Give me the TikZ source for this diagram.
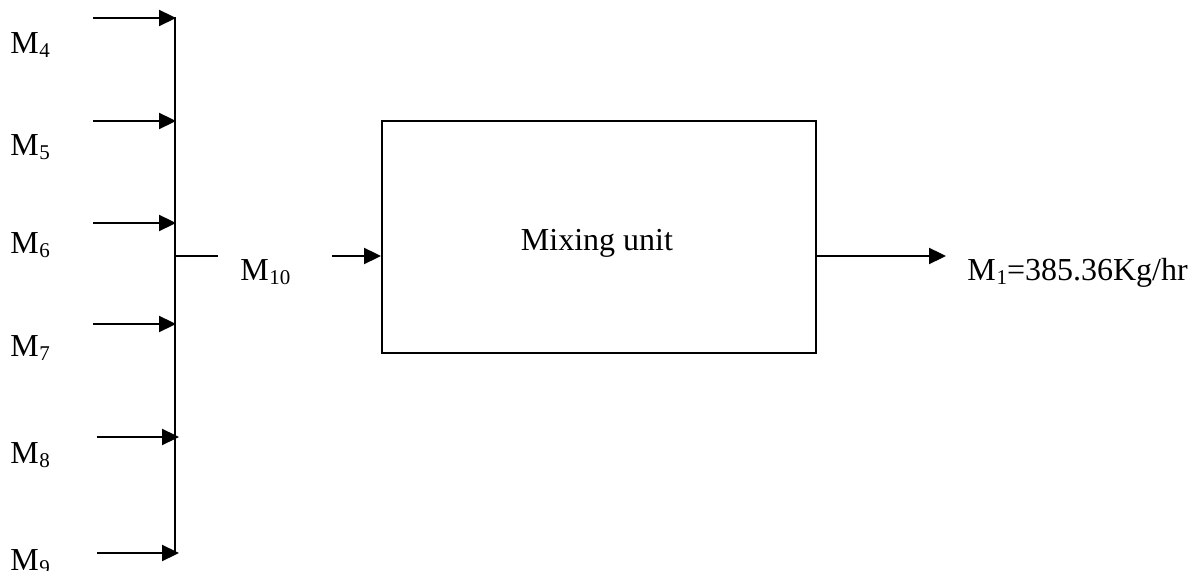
\documentclass[tikz,border=0pt]{standalone}
\usepackage{fontspec}
\setmainfont{Liberation Serif}
\usetikzlibrary{arrows.meta}
\newcommand{\lbl}[2]{M\kern0.02em\raisebox{-0.12em}{\fontsize{10.5}{10.5}\selectfont #2}#1}
\tikzset{
  flow/.style={line width=1.15pt,-{Triangle[length=8.5pt,width=8pt]}},
  plain/.style={line width=1.15pt},
  lab/.style={anchor=west,inner sep=0pt,font=\fontsize{16}{18}\selectfont},
  unitbox/.style={draw,line width=1.15pt,minimum width=217pt,minimum height=116pt,inner sep=0pt,anchor=north west,font=\fontsize{16}{18}\selectfont}
}
\begin{document}
\begin{tikzpicture}[x=0.5pt,y=-0.5pt]
\useasboundingbox (0,0) rectangle (1199,571);
% bus
\coordinate (btop) at (175,17);
\coordinate (bbot) at (175,554);
\draw[plain] (btop) -- (bbot);
% inputs
\coordinate (s4) at (93,18);   \coordinate (e4) at (176,18);
\coordinate (s5) at (93,121);  \coordinate (e5) at (176,121);
\coordinate (s6) at (93,223);  \coordinate (e6) at (176,223);
\coordinate (s7) at (93,324);  \coordinate (e7) at (176,324);
\coordinate (s8) at (97,437);  \coordinate (e8) at (179,437);
\coordinate (s9) at (97,553);  \coordinate (e9) at (179,553);
\foreach \i in {4,...,9} {\draw[flow] (s\i) -- (e\i);}
\node[lab] (m4) at (10,45) {\lbl{}{4}};
\node[lab] (m5) at (10,147) {\lbl{}{5}};
\node[lab] (m6) at (10,245) {\lbl{}{6}};
\node[lab] (m7) at (10,348) {\lbl{}{7}};
\node[lab] (m8) at (10,455) {\lbl{}{8}};
\node[lab] (m9) at (10,562) {\lbl{}{9}};
% M10
\coordinate (b10) at (175,256);
\coordinate (t10) at (218,256);
\draw[plain] (b10) -- (t10);
\node[lab] (m10) at (240,272) {\lbl{}{10}};
\coordinate (s10) at (332,256);
% box
\node[unitbox] (box) at (381,120) {};
\node[font=\fontsize{16}{18}\selectfont,inner sep=0pt] (boxtxt) at (597,243) {Mixing unit};
\draw[flow] (s10) -- (box.west |- s10);
% output
\coordinate (out) at (946,256);
\draw[flow] (box.east |- out) -- (out);
\node[lab] (m1) at (967,273) {\lbl{=385.36Kg/hr}{1}};
\end{tikzpicture}
\end{document}
